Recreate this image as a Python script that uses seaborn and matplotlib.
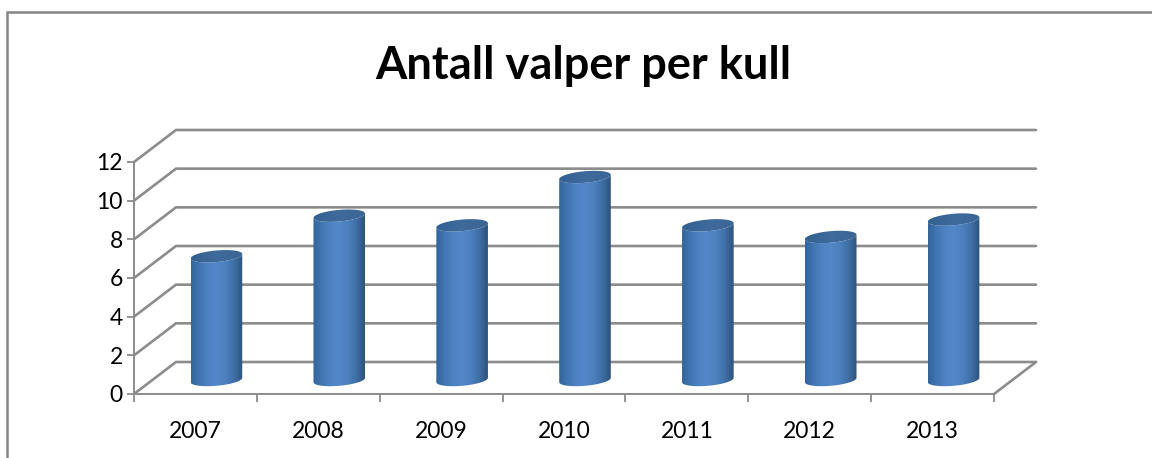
import numpy as np
import pandas as pd
import matplotlib
matplotlib.use("Agg")
import matplotlib.pyplot as plt
from matplotlib.colors import LinearSegmentedColormap
from matplotlib.lines import Line2D
from matplotlib.patches import Polygon
import seaborn as sns

years = ["2007", "2008", "2009", "2010", "2011", "2012", "2013"]
valper = [6.4, 8.5, 8.0, 10.5, 8.0, 7.4, 8.3]
y_ticks = [0, 2, 4, 6, 8, 10, 12]

W, H = 1152, 458
GREY = "#8c8c8c"

sns.set_theme(style="white")
plt.rcParams["font.family"] = ["Lato", "DejaVu Sans"]

df = pd.DataFrame({"year": years, "valper": valper})

fig = plt.figure(figsize=(W / 100, H / 100), dpi=100, facecolor="white")


def axes_px(left, right, top, bottom):
    return fig.add_axes([left / W, 1 - bottom / H, (right - left) / W, (bottom - top) / H])


# front plane of the 3d box
ax = axes_px(134, 994, 162, 394)
ax.set_xlim(0, 7)
ax.set_ylim(0, 12)
ax.patch.set_alpha(0)
sns.despine(ax=ax, top=True, right=True)
for side in ["left", "bottom"]:
    ax.spines[side].set_color(GREY)
    ax.spines[side].set_linewidth(1.4)
ax.set_xticks(range(8))
ax.set_xticklabels([])
ax.set_yticks(y_ticks)
ax.tick_params(axis="x", length=6, width=1.3, color=GREY, bottom=True)
ax.tick_params(axis="y", length=5, width=1.3, color=GREY, left=True, labelsize=16.5,
               labelcolor="black", pad=3)
for i, y in enumerate(years):
    ax.text(i + 0.5, -1.93, y, ha="center", va="center", fontsize=16.5, color="black")

# depth of the box in data units
dx = 42 / (860 / 7)
dy = 32 / (232 / 12)
for v in y_ticks:
    ax.add_line(Line2D([0, dx, 7 + dx], [v, v + dy, v + dy], color=GREY, lw=1.9,
                       clip_on=False, zorder=1, solid_joinstyle="miter"))
ax.add_line(Line2D([7, 7 + dx], [0, dy], color=GREY, lw=1.9, clip_on=False, zorder=1))

# the cylinders stand half way into the box, one unit of room below and above for the rims
px_unit = 232 / 12
ax_bars = axes_px(134 + 21, 994 + 21, 162 - 14 - px_unit, 394 - 14 + px_unit)
ax_bars.patch.set_alpha(0)
sns.barplot(data=df, x="year", y="valper", ax=ax_bars, color="#4F81BD", width=0.42, saturation=1)
ax_bars.axis("off")

side_cmap = LinearSegmentedColormap.from_list(
    "side", ["#33639A", "#4176B2", "#4E83C3", "#5288C9", "#4C80BE", "#3F6FA6", "#2E527C"])
top_cmap = LinearSegmentedColormap.from_list("top", ["#32608F", "#3F6B9C", "#3A6595"])
grad = np.linspace(0, 1, 256).reshape(1, -1)

ry = 5.8 / px_unit
tilt = 2.2 / px_unit
t = np.linspace(0, 2 * np.pi, 120)
tt = np.linspace(np.pi, 2 * np.pi, 60)

for bar in list(ax_bars.patches):
    x0 = bar.get_x()
    x1 = x0 + bar.get_width()
    cx = (x0 + x1) / 2
    h = bar.get_height()
    half = (x1 - x0) / 2
    bar.set_visible(False)

    # body: both rims of the cylinder closed into one outline
    low_x = cx + half * np.cos(tt)
    low_y = ry * np.sin(tt) + tilt * np.cos(tt)
    body = Polygon(np.column_stack([np.r_[low_x, low_x[::-1]], np.r_[low_y, h + low_y[::-1]]]),
                   closed=True, facecolor="none", edgecolor="none", transform=ax_bars.transData)
    ax_bars.add_patch(body)
    im = ax_bars.imshow(grad, extent=(x0, x1, -1, h + 1), cmap=side_cmap, aspect="auto",
                        zorder=3, interpolation="bilinear")
    im.set_clip_path(body)

    # top disc
    cap_x = cx + half * np.cos(t)
    cap_y = h + ry * np.sin(t) + tilt * np.cos(t)
    cap = Polygon(np.column_stack([cap_x, cap_y]), closed=True, facecolor="none",
                  edgecolor="none", transform=ax_bars.transData)
    ax_bars.add_patch(cap)
    im2 = ax_bars.imshow(grad, extent=(x0, x1, h - 1, h + 1), cmap=top_cmap, aspect="auto",
                         zorder=4, interpolation="bilinear")
    im2.set_clip_path(cap)

ax_bars.set_xlim(-0.5, 6.5)
ax_bars.set_ylim(-1, 13)

# outer frame of the chart, runs off the picture at the right and the bottom
fig.add_artist(Line2D([6.5 / W, 6.5 / W, 1], [0, 1 - 11.5 / H, 1 - 11.5 / H],
                      color="#868686", lw=1.8, transform=fig.transFigure,
                      solid_joinstyle="miter"))

fig.text(583 / W, 1 - 66 / H, "Antall valper per kull", ha="center", va="center",
         fontsize=32.5, fontweight="bold", color="black")

fig.savefig("out.png", dpi=100)
